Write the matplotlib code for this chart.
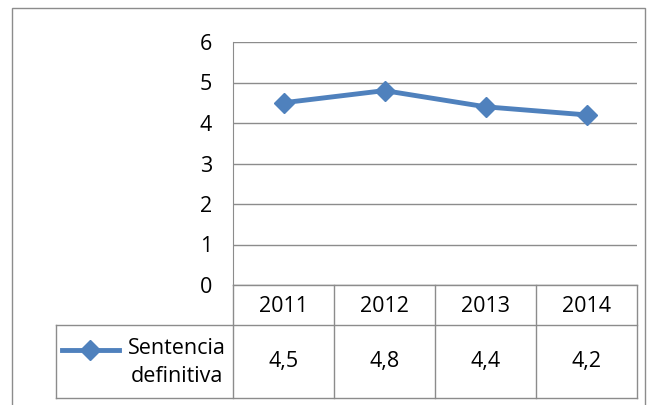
import matplotlib.pyplot as plt
from matplotlib.lines import Line2D
from matplotlib.patches import Rectangle

years = ['2011', '2012', '2013', '2014']
values = [4.5, 4.8, 4.4, 4.2]
value_labels = ['4,5', '4,8', '4,4', '4,2']
series_name = 'Sentencia\ndefinitiva'
y_ticks = [0, 1, 2, 3, 4, 5, 6]

W, H = 656, 405
blue = '#4F81BD'
grid_c = '#8C8C8C'
fs = 15.5
plt.rcParams['font.family'] = ['Open Sans', 'DejaVu Sans']

fig = plt.figure(figsize=(W / 100, H / 100), dpi=100)

def fx(px):
    return px / W

def fy(py):
    return 1 - py / H

# outer chart border (bottom edge is cut off in the source)
fig.patches.append(Rectangle((fx(12), fy(420)), fx(645) - fx(12), fy(8) - fy(420),
                             transform=fig.transFigure, fill=False,
                             edgecolor=grid_c, linewidth=1))

# plot area
x_left, x_right = 233, 637
y_top, y_zero = 42, 285
ax = fig.add_axes([fx(x_left), fy(y_zero), fx(x_right) - fx(x_left), fy(y_top) - fy(y_zero)])
xs = list(range(len(years)))
ax.plot(xs, values, color=blue, linewidth=3.5, marker='D', markersize=10,
        clip_on=False)
ax.set_xlim(-0.5, len(years) - 0.5)
ax.set_ylim(0, 6)
ax.set_yticks(y_ticks)
ax.set_yticklabels([str(t) for t in y_ticks], fontsize=fs)
ax.tick_params(axis='y', length=0, pad=15)
ax.set_xticks([])
ax.grid(axis='y', color=grid_c, linewidth=1)
ax.set_axisbelow(True)
for s in ['top', 'right', 'bottom']:
    ax.spines[s].set_visible(False)
ax.spines['left'].set_color(grid_c)

# data table below the plot
t_left, t_bottom, hdr_bottom = 56, 398, 325
tax = fig.add_axes([fx(t_left), fy(t_bottom), fx(x_right) - fx(t_left), fy(y_zero) - fy(t_bottom)])
unit = (x_right - x_left) / len(years)
tx0 = -0.5 - (x_left - t_left) / unit
tax.set_xlim(tx0, len(years) - 0.5)
tax.set_ylim(t_bottom, y_zero)
tax.axis('off')

lw = 1
# horizontal lines
tax.plot([-0.5, len(years) - 0.5], [y_zero, y_zero], color=grid_c, lw=lw, clip_on=False)
tax.plot([tx0, len(years) - 0.5], [hdr_bottom, hdr_bottom], color=grid_c, lw=lw, clip_on=False)
tax.plot([tx0, len(years) - 0.5], [t_bottom, t_bottom], color=grid_c, lw=lw, clip_on=False)
# vertical lines
for i in range(len(years) + 1):
    tax.plot([i - 0.5, i - 0.5], [y_zero, t_bottom], color=grid_c, lw=lw, clip_on=False)
tax.plot([tx0, tx0], [hdr_bottom, t_bottom], color=grid_c, lw=lw, clip_on=False)

row_mid = (hdr_bottom + t_bottom) / 2
for i, (yr, lab) in enumerate(zip(years, value_labels)):
    tax.text(i, (y_zero + hdr_bottom) / 2 + 1, yr, ha='center', va='center', fontsize=fs)
    tax.text(i, row_mid, lab, ha='center', va='center', fontsize=fs)

# legend key in the table
key_y = 350
tax.add_line(Line2D([tx0 + 0.06, tx0 + 0.62], [key_y, key_y], color=blue, linewidth=3.5))
tax.plot([tx0 + 0.34], [key_y], marker='D', markersize=10, color=blue)
tax.text(tx0 + 1.2, row_mid + 1, series_name, ha='center', va='center',
         fontsize=fs, linespacing=1.45)

fig.savefig('out.png', dpi=100)
